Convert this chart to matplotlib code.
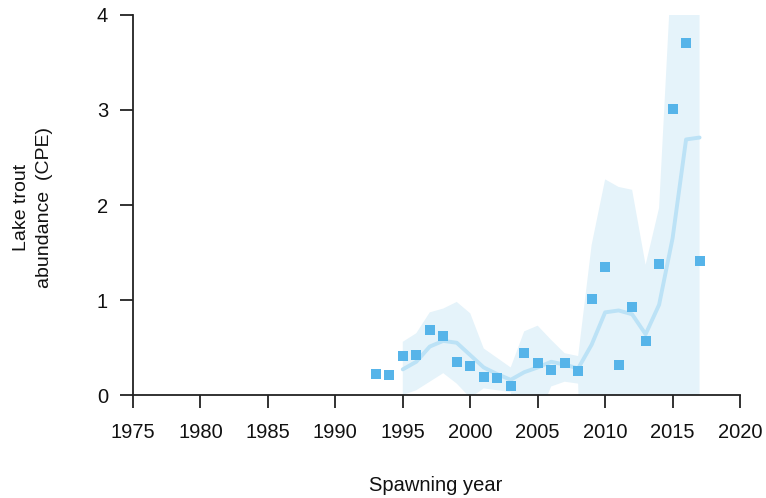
import matplotlib
matplotlib.use("Agg")
import matplotlib.pyplot as plt

plt.rcParams['font.family'] = ['Liberation Sans', 'DejaVu Sans']

# Observed CPE by spawning year
obs_years = [1993, 1994, 1995, 1996, 1997, 1998, 1999, 2000, 2001, 2002, 2003, 2004,
             2005, 2006, 2007, 2008, 2009, 2010, 2011, 2012, 2013, 2014, 2015, 2016, 2017]
obs_cpe = [0.22, 0.21, 0.41, 0.42, 0.68, 0.62, 0.35, 0.31, 0.19, 0.18, 0.09, 0.44,
           0.34, 0.26, 0.34, 0.25, 1.01, 1.35, 0.32, 0.93, 0.57, 1.38, 3.01, 3.71, 1.41]

# Smoothed trend with confidence band
fit_years = [1995, 1996, 1997, 1998, 1999, 2000, 2001, 2002, 2003, 2004, 2005, 2006,
             2007, 2008, 2009, 2010, 2011, 2012, 2013, 2014, 2015, 2016, 2017]
fit_cpe = [0.27, 0.35, 0.51, 0.57, 0.55, 0.42, 0.29, 0.22, 0.16, 0.24, 0.29, 0.35,
           0.32, 0.28, 0.53, 0.87, 0.89, 0.85, 0.64, 0.95, 1.65, 2.69, 2.71]
fit_upper = [0.56, 0.65, 0.87, 0.91, 0.98, 0.86, 0.49, 0.39, 0.29, 0.67, 0.73, 0.58,
             0.44, 0.41, 1.58, 2.27, 2.19, 2.16, 1.37, 1.97, 4.7, 6.0, 6.0]
fit_lower = [0.0, 0.05, 0.14, 0.23, 0.12, -0.03, 0.07, 0.05, 0.03, -0.4, -0.25, 0.09,
             0.14, 0.12, -5.0, -3.0, -3.0, -3.0, -3.0, -3.0, -3.0, -3.0, -3.0]

fig = plt.figure(figsize=(7.66, 4.98), dpi=100)
ax = fig.add_axes([0.1736, 0.2068, 0.7925, 0.7631])

ax.fill_between(fit_years, fit_lower, fit_upper, color='#E5F3FA', linewidth=0)
ax.plot(fit_years, fit_cpe, color='#BCE2F6', linewidth=2.8, solid_capstyle='round')
ax.plot(obs_years, obs_cpe, linestyle='none', marker='s', markersize=6.5,
        color='#56B4E9', markeredgewidth=0)

ax.set_xlim(1975, 2020)
ax.set_ylim(0, 4)
ax.set_xticks(range(1975, 2021, 5))
ax.set_yticks([0, 1, 2, 3, 4])

for side in ['top', 'right']:
    ax.spines[side].set_visible(False)
for side in ['left', 'bottom']:
    ax.spines[side].set_linewidth(1.3)
    ax.spines[side].set_color('#222222')

ax.tick_params(axis='both', length=9.4, width=1.3, color='#222222',
               labelsize=14.5, labelcolor='#111111')
ax.tick_params(axis='x', pad=11)
ax.tick_params(axis='y', pad=8.5)

fig.text(436 / 766, 1 - 485 / 498, 'Spawning year', ha='center', va='center',
         fontsize=14.5, color='#111111')
fig.text(33 / 766, 1 - 207 / 498, 'Lake trout\nabundance  (CPE)', ha='center',
         va='center', rotation=90, multialignment='center', fontsize=14,
         color='#111111', linespacing=1.4)

fig.savefig('out.png', dpi=100)
